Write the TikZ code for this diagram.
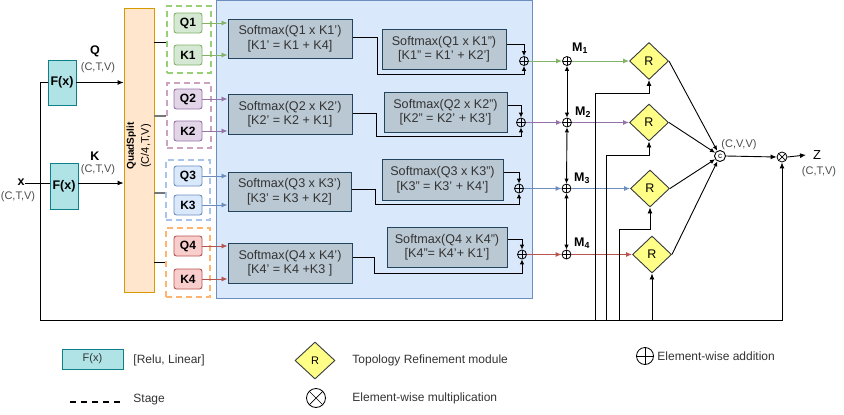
\documentclass[tikz,border=0pt]{standalone}
\usepackage{fontspec}
\setmainfont{Liberation Sans}
\usetikzlibrary{arrows.meta,shapes.geometric,calc}
\definecolor{fxF}{HTML}{B0E3E6}\definecolor{fxD}{HTML}{0E8088}
\definecolor{qsF}{HTML}{FFE6CC}\definecolor{qsD}{HTML}{D79B00}
\definecolor{pnF}{HTML}{DAE8FC}\definecolor{pnD}{HTML}{6C8EBF}
\definecolor{smF}{HTML}{BAC8D3}\definecolor{smD}{HTML}{23445D}
\definecolor{rF}{HTML}{FFFF88}\definecolor{rD}{HTML}{36393D}
\definecolor{gF}{HTML}{D5E8D4}\definecolor{gD}{HTML}{82B366}
\definecolor{pF}{HTML}{E1D5E7}\definecolor{pD}{HTML}{9673A6}
\definecolor{bF}{HTML}{DAE8FC}\definecolor{bD}{HTML}{6C8EBF}
\definecolor{oF}{HTML}{F8CECC}\definecolor{oD}{HTML}{B85450}
\definecolor{sA}{HTML}{97D077}\definecolor{sB}{HTML}{CDA2BE}
\definecolor{sC}{HTML}{A9C4EB}\definecolor{sD}{HTML}{FFB570}
\definecolor{dimtxt}{HTML}{4D4D4D}
\definecolor{txt}{HTML}{333333}
\definecolor{midgray}{HTML}{777777}
\begin{document}
\begin{tikzpicture}[x=1pt,y=-1pt,
  font=\fontsize{12}{14}\selectfont,
  line width=0.9pt,
  arr/.style={-{Latex[length=6pt,width=5pt]}},
  sarr/.style={-{Latex[length=5pt,width=4.5pt]}},
  fxbox/.style={draw=fxD,fill=fxF,minimum width=28pt,minimum height=45pt,inner sep=0pt,font=\bfseries\fontsize{12.5}{14}\selectfont},
  stagebox/.style={draw=#1,dash pattern=on 6pt off 4pt,line width=1.6pt,minimum width=44pt,inner sep=0pt},
  qk/.style n args={2}{draw=#1,fill=#2,rounded corners=2.5pt,minimum width=28pt,minimum height=20pt,inner sep=0pt,font=\bfseries\fontsize{12}{14}\selectfont},
  smbox/.style={draw=smD,fill=smF,line width=1pt,minimum height=40pt,inner sep=0pt,align=center,text=txt,font=\fontsize{12.6}{14.5}\selectfont},
  rbox/.style={diamond,draw=rD,fill=rF,minimum width=39pt,minimum height=37pt,inner sep=0pt,font=\fontsize{12.5}{14}\selectfont},
  plus/.style={circle,draw,minimum size=9pt,inner sep=0pt,line width=0.8pt,path picture={\draw[line width=0.7pt] (path picture bounding box.north)--(path picture bounding box.south) (path picture bounding box.west)--(path picture bounding box.east);}},
  times/.style={circle,draw,minimum size=10pt,inner sep=0pt,line width=0.8pt,path picture={\draw[line width=0.7pt] (path picture bounding box.north west)--(path picture bounding box.south east) (path picture bounding box.south west)--(path picture bounding box.north east);}},
  dim/.style={text=dimtxt,font=\fontsize{11}{13}\selectfont,inner sep=0pt},
  lbl/.style={font=\bfseries\fontsize{12.5}{14}\selectfont,inner sep=0pt},
  legtxt/.style={anchor=west,inner sep=0pt,text=txt,font=\fontsize{12}{14}\selectfont},
]
\useasboundingbox (0,0) rectangle (844,415);

% ---------- panel and quadsplit ----------
\node[draw=pnD,fill=pnF,minimum width=316pt,minimum height=298pt,inner sep=0pt] (panel) at (374,149.5) {};
\node[draw=qsD,fill=qsF,minimum width=30pt,minimum height=284pt,inner sep=0pt] (qs) at (139,150) {};
\node[rotate=90,align=center,inner sep=0pt] (qst) at (139,146) {\textbf{\fontsize{10}{12}\selectfont QuadSplit}\\[1pt]{\fontsize{11}{13}\selectfont (C/4,T,V)}};

% ---------- F(x) and inputs ----------
\node[fxbox] (fx1) at (62,82.5) {F(x)};
\node[fxbox,minimum height=46pt] (fx2) at (64,186) {F(x)};
\node[lbl] (xl) at (21,182) {x};
\node[dim] (xd) at (18,197) {(C,T,V)};
\node[lbl] (ql) at (95,51) {Q};
\node[dim] (qd) at (98,68) {(C,T,V)};
\node[lbl] (kl) at (95,156) {K};
\node[dim] (kd) at (98,170) {(C,T,V)};

\draw (xl.east |- 0,183) -- (fx2.west |- 0,183);
\draw[arr] (fx1.east) -- (qs.west |- fx1.east);
\draw[arr] (fx2.east |- 0,183) -- (qs.west |- 0,183);

% ---------- stages ----------
\node[stagebox=sA,minimum height=67pt] (st1) at (189,39.5) {};
\node[stagebox=sB,minimum height=65pt] (st2) at (189,115.5) {};
\node[stagebox=sC,minimum height=60pt] (st3) at (188,190) {};
\node[stagebox=sD,minimum height=69pt] (st4) at (188,262.5) {};

\draw (qs.east |- 0,42) -- (st1.west |- 0,42);
\draw[midgray,line width=1.3pt] (qs.east |- 0,116) -- (st2.west |- 0,116);
\draw[midgray,line width=1.3pt] (qs.east |- 0,193) -- (st3.west |- 0,193);
\draw (qs.east |- 0,262) -- (st4.west |- 0,262);

\node[qk={gD}{gF}] (q1) at (188,23) {Q1};
\node[qk={gD}{gF}] (k1) at (188,55) {K1};
\node[qk={pD}{pF}] (q2) at (188,99) {Q2};
\node[qk={pD}{pF}] (k2) at (188,131) {K2};
\node[qk={bD}{bF}] (q3) at (188,176) {Q3};
\node[qk={bD}{bF}] (k3) at (188,205) {K3};
\node[qk={oD}{oF}] (q4) at (188,246) {Q4};
\node[qk={oD}{oF}] (k4) at (188,279) {K4};

% ---------- softmax boxes ----------
\node[smbox,minimum width=124pt,minimum height=39pt] (sa1) at (290,38.5) {Softmax(Q1 x K1')\\{}[K1' = K1 + K4]};
\node[smbox,minimum width=124pt] (sa2) at (290,114) {Softmax(Q2 x K2')\\{}[K2' = K2 + K1]};
\node[smbox,minimum width=123pt,minimum height=39pt] (sa3) at (289.5,191.5) {Softmax(Q3 x K3')\\{}[K3' = K3 + K2]};
\node[smbox,minimum width=124pt] (sa4) at (290,263) {Softmax(Q4 x K4')\\{}[K4' = K4 +K3 ]};

\node[smbox,minimum width=124pt] (sb1) at (444,49) {Softmax(Q1 x K1'')\\{}[K1'' = K1' + K2']};
\node[smbox,minimum width=123pt] (sb2) at (445.5,112) {Softmax(Q2 x K2'')\\{}[K2'' = K2' + K3']};
\node[smbox,minimum width=121pt,minimum height=41pt] (sb3) at (442.5,179.5) {Softmax(Q3 x K3'')\\{}[K3'' = K3' + K4']};
\node[smbox,minimum width=120pt] (sb4) at (447,247) {Softmax(Q4 x K4'')\\{}[K4''= K4'+ K1']};

\draw[arr,gD] (q1.east) -- (sa1.west |- q1.east);
\draw[arr,gD] (k1.east) -- (sa1.west |- k1.east);
\draw[arr,pD] (q2.east) -- (sa2.west |- q2.east);
\draw[arr,pD] (k2.east) -- (sa2.west |- k2.east);
\draw[arr,bD] (q3.east) -- (sa3.west |- q3.east);
\draw[arr,bD] (k3.east) -- (sa3.west |- k3.east);
\draw[arr,oD] (q4.east) -- (sa4.west |- q4.east);
\draw[arr,oD] (k4.east) -- (sa4.west |- k4.east);

% ---------- inner additions ----------
\node[plus] (p1) at (524,61) {};
\node[plus] (p2) at (521,122.5) {};
\node[plus] (p3) at (519,188.5) {};
\node[plus] (p4) at (522,254.5) {};

\draw[sarr] (sa1.east |- 0,37) -- (377,37) -- (377,74) -| (p1.south);
\draw[sarr] (sb1.east |- 0,44) -| (p1.north);
\draw[sarr] (sa2.east |- 0,113) -- (376,113) -- (376,136) -| (p2.south);
\draw[sarr] (sb2.east |- 0,105) -| (p2.north);
\draw[sarr] (sa3.east |- 0,189) -- (375,189) -- (375,204) -| (p3.south);
\draw[sarr] (sb3.east |- 0,172) -| (p3.north);
\draw[sarr] (sa4.east |- 0,257) -- (374,257) -- (374,273) -| (p4.south);
\draw[sarr] (sb4.east |- 0,239) -| (p4.north);

% ---------- M additions ----------
\node[plus] (m1) at (567,61) {};
\node[plus] (m2) at (567,122.5) {};
\node[plus] (m3) at (566.5,188.5) {};
\node[plus] (m4) at (566.5,254.5) {};
\node[lbl] (m1l) at (580,48) {M\textsubscript{1}};
\node[lbl] (m2l) at (583,112) {M\textsubscript{2}};
\node[lbl] (m3l) at (582,178) {M\textsubscript{3}};
\node[lbl] (m4l) at (582,243) {M\textsubscript{4}};

\draw[arr,gD] (p1.east) -- (m1.west);
\draw[arr,pD] (p2.east) -- (m2.west);
\draw[arr,bD] (p3.east) -- (m3.west);
\draw[arr,oD] (p4.east) -- (m4.west);

\draw[{Latex[length=5pt,width=4.5pt]}-{Latex[length=5pt,width=4.5pt]}] (m1.south) -- (m2.north);
\draw[{Latex[length=5pt,width=4.5pt]}-{Latex[length=5pt,width=4.5pt]}] (m2.south) -- (m3.north);
\draw[{Latex[length=5pt,width=4.5pt]}-{Latex[length=5pt,width=4.5pt]}] (m3.south) -- (m4.north);

% ---------- refinement ----------
\node[rbox] (r1) at (649,61) {R};
\node[rbox] (r2) at (649,122.5) {R};
\node[rbox] (r3) at (650,188.5) {R};
\node[rbox] (r4) at (652,254.5) {R};

\draw[arr,gD] (m1.east) -- (r1.west);
\draw[arr,pD] (m2.east) -- (r2.west);
\draw[arr,bD] (m3.east) -- (r3.west);
\draw[arr,oD] (m4.east) -- (r4.west);

% ---------- combine ----------
\node[circle,draw,minimum size=11pt,inner sep=0pt,font=\fontsize{8}{8}\selectfont] (cc) at (720,156) {c};
\node[times] (mul) at (782,157) {};
\node[dim] (cvv) at (739,145) {(C,V,V)};
\node[inner sep=0pt,font=\fontsize{13}{14}\selectfont] (zl) at (817,155) {Z};
\node[dim] (zd) at (819,172) {(C,T,V)};

\draw[sarr] (r1.east) -- (cc);
\draw[sarr] (r2.east) -- (cc);
\draw[sarr] (r3.east) -- (cc);
\draw[sarr] (r4.east) -- (cc);
\draw[arr] (cc.east) -- (mul.west);
\draw[arr] (mul.east) -- (zl.west -| 806,0);

% ---------- skip / bottom wiring ----------
\coordinate (bl) at (40,320);
\draw[arr] (fx1.west) -| (bl) -| (mul.south);
\draw[arr] (595,320) -- (595,93) -| (r1.south);
\draw[arr] (606,320) -- (606,155) -| (r2.south);
\draw[arr] (619,320) -- (619,229) -| (r3.south);
\draw[arr] (r4.south |- bl) -- (r4.south);

% ---------- legend ----------
\node[draw=fxD,fill=fxF,minimum width=61pt,minimum height=20pt,inner sep=0pt,text=txt,font=\fontsize{11}{12}\selectfont] (lfx) at (92.5,359) {F(x)};
\node[legtxt] (lfxt) at (133,360) {[Relu, Linear]};
\node[rbox,minimum width=40pt,minimum height=37pt,font=\fontsize{11}{12}\selectfont] (lr) at (315,360.5) {R};
\node[legtxt] (lrt) at (352,360) {Topology Refinement module};
\node[plus,minimum size=17pt] (lp) at (645,356) {};
\node[legtxt] (lpt) at (657,356) {Element-wise addition};
\coordinate (ld1) at (70,402);
\coordinate (ld2) at (120,402);
\draw[dash pattern=on 6pt off 5pt,line width=1.3pt] (ld1) -- (ld2);
\node[legtxt] (lst) at (133,400) {Stage};
\node[times,minimum size=19pt] (lm) at (316,398) {};
\node[legtxt] (lmt) at (352,398) {Element-wise multiplication};
\end{tikzpicture}
\end{document}
